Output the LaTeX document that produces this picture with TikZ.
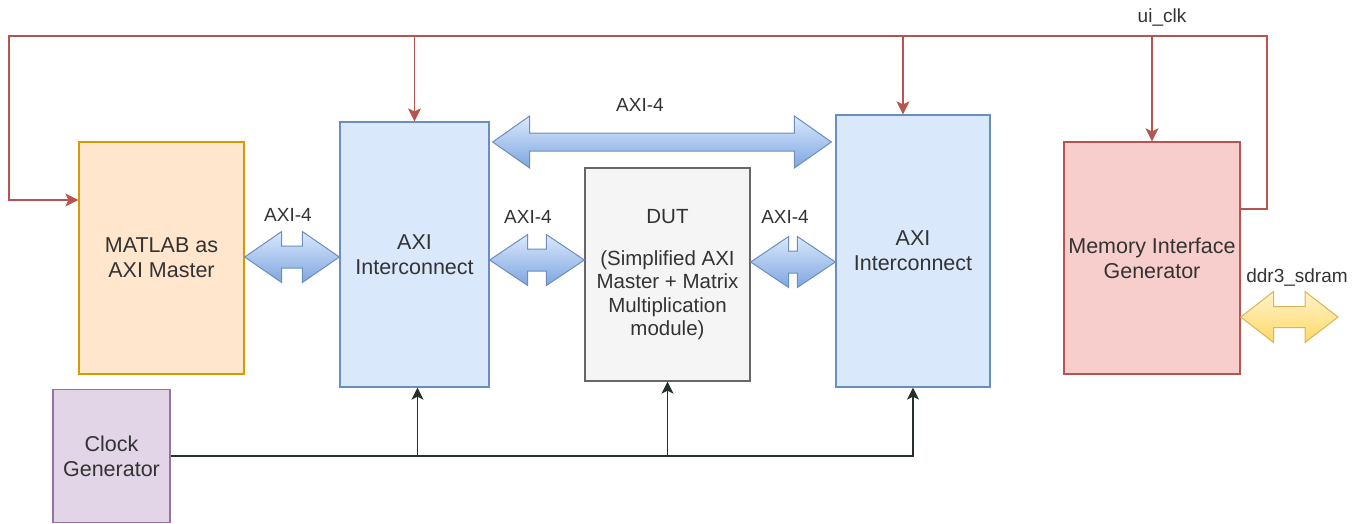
\documentclass[tikz,border=0pt]{standalone}
\usepackage{fontspec}
\setmainfont{Liberation Sans}
\usepackage{xcolor}
\definecolor{cText}{HTML}{333333}
\definecolor{cAxiFill}{HTML}{DAE8FC}
\definecolor{cAxiLine}{HTML}{6C8EBF}
\definecolor{cAxiDark}{HTML}{7EA6E0}
\definecolor{cHostFill}{HTML}{FFE6CC}
\definecolor{cHostLine}{HTML}{D79B00}
\definecolor{cDutFill}{HTML}{F5F5F5}
\definecolor{cDutLine}{HTML}{666666}
\definecolor{cMigFill}{HTML}{F8CECC}
\definecolor{cMigLine}{HTML}{B85450}
\definecolor{cClkFill}{HTML}{E1D5E7}
\definecolor{cClkLine}{HTML}{9673A6}
\definecolor{cDdrFill}{HTML}{FFF2CC}
\definecolor{cDdrDark}{HTML}{FFD966}
\definecolor{cDdrLine}{HTML}{D6B656}
\definecolor{cWire}{HTML}{26302B}
\usepackage{tikz}
\usetikzlibrary{positioning,arrows.meta,calc}
\tikzset{
  node-box/.style={draw,line width=1.3pt,inner sep=0pt,align=center,
    text=cText,font=\fontsize{21.5}{25}\selectfont},
  node-host/.style={node-box,draw=cHostLine,fill=cHostFill},
  node-axi/.style={node-box,draw=cAxiLine,fill=cAxiFill},
  node-dut/.style={node-box,draw=cDutLine,fill=cDutFill,
    font=\fontsize{20.5}{23.3}\selectfont},
  node-mig/.style={node-box,draw=cMigLine,fill=cMigFill},
  node-clk/.style={node-box,draw=cClkLine,fill=cClkFill},
  label-bus/.style={text=cText,font=\fontsize{19}{22}\selectfont,inner sep=0pt},
  % flex arrows: gradient fill, light on top
  bus-axi/.style={draw=cAxiLine,line width=1pt,line join=miter,
    top color=cAxiFill,bottom color=cAxiDark},
  bus-ddr/.style={draw=cDdrLine,line width=1pt,line join=miter,
    top color=cDdrFill,bottom color=cDdrDark},
  arrow-uiclk/.style={-{Stealth[length=13pt,width=13pt,inset=3pt]},
    line width=1.4pt,draw=cMigLine},
  arrow-sysclk/.style={-{Stealth[length=12pt,width=12pt,inset=3pt]},
    line width=1.4pt,draw=cWire},
}
% #1 style, #2 from, #3 to, #4 head length, #5 head half height, #6 shaft half height
\newcommand{\busarrow}[6]{%
  \draw[#1] (#2) -- ($(#2)+(#4,#5)$) -- ($(#2)+(#4,#6)$) -- ($(#3)+(-#4,#6)$)
    -- ($(#3)+(-#4,#5)$) -- (#3) -- ($(#3)+(-#4,-#5)$) -- ($(#3)+(-#4,-#6)$)
    -- ($(#2)+(#4,-#6)$) -- ($(#2)+(#4,-#5)$) -- cycle;
}

\begin{document}
\begin{tikzpicture}[x=1pt,y=-1pt]
  \useasboundingbox (0,0) rectangle (1362,523);

  % blocks
  \node[node-host,minimum width=165,minimum height=232] (matlab) at (161.5,258) {MATLAB as\\AXI Master};
  \node[node-axi,minimum width=149,minimum height=265] (axiL) at (414.5,254.5) {AXI\\Interconnect};
  \node[node-dut,minimum width=165,minimum height=213] (dut) at (667.5,274.5)
    {DUT\\[19pt](Simplified AXI\\Master + Matrix\\Multiplication\\module)};
  \node[node-axi,minimum width=154,minimum height=272] (axiR) at (913,251) {AXI\\Interconnect};
  \node[node-mig,minimum width=176,minimum height=232] (mig) at (1152,258) {Memory Interface\\Generator};
  \node[node-clk,minimum width=117,minimum height=133] (clkgen) at (111.5,456) {Clock\\Generator};

  % bus ends
  \coordinate (busLa) at ($(matlab.east)+(0,-1)$);
  \coordinate (busLb) at (axiL.west |- busLa);
  \coordinate (busMa) at (axiL.east |- 0,260);
  \coordinate (busMb) at (dut.west |- busMa);
  \coordinate (busRa) at (dut.east |- 0,262);
  \coordinate (busRb) at (axiR.west |- busRa);
  \coordinate (busTa) at ($(axiL.east |- 0,142)+(3,0)$);
  \coordinate (busTb) at ($(axiR.west |- 0,142)+(-4,0)$);
  \coordinate (ddrIn) at (mig.east |- 0,317);
  \coordinate (ddrOut) at (1338,317);

  \busarrow{bus-axi}{busLa}{busLb}{37}{25.5}{11}
  \busarrow{bus-axi}{busMa}{busMb}{38}{25.5}{11}
  \busarrow{bus-axi}{busRa}{busRb}{38}{25.5}{11}
  \busarrow{bus-axi}{busTa}{busTb}{37}{26}{9}
  \busarrow{bus-ddr}{ddrIn}{ddrOut}{33}{25.5}{10.5}

  \node[label-bus] (lblL) at (288,215) {AXI-4};
  \node[label-bus] (lblM) at (528,217) {AXI-4};
  \node[label-bus] (lblR) at (785,217) {AXI-4};
  \node[label-bus] (lblT) at (640,105) {AXI-4};
  \node[label-bus] (lblDdr) at (1297,277) {ddr3\_sdram};

  % ui_clk loop
  \coordinate (uiTopL) at (9,36);
  \coordinate (uiTopR) at (1267,36);
  \draw[arrow-uiclk] ($(mig.east)+(0,-49)$) -| (uiTopR) -- (uiTopL) |- ($(matlab.west)+(0,-58)$);
  \draw[arrow-uiclk] (axiL.north |- uiTopL) -- (axiL.north);
  \draw[arrow-uiclk] ($(axiR.north |- uiTopL)+(-10,0)$) -- ($(axiR.north)+(-10,0)$);
  \draw[arrow-uiclk] (mig.north |- uiTopL) -- (mig.north);
  \node[label-bus] (lblUi) at (1162,17) {ui\_clk};

  % system clock
  \draw[arrow-sysclk] (clkgen.east) -| (axiR.south);
  \draw[arrow-sysclk] ($(axiL.south |- clkgen.east)+(3,0)$) -- ($(axiL.south)+(3,0)$);
  \draw[arrow-sysclk] (dut.south |- clkgen.east) -- (dut.south);
\end{tikzpicture}
\end{document}
